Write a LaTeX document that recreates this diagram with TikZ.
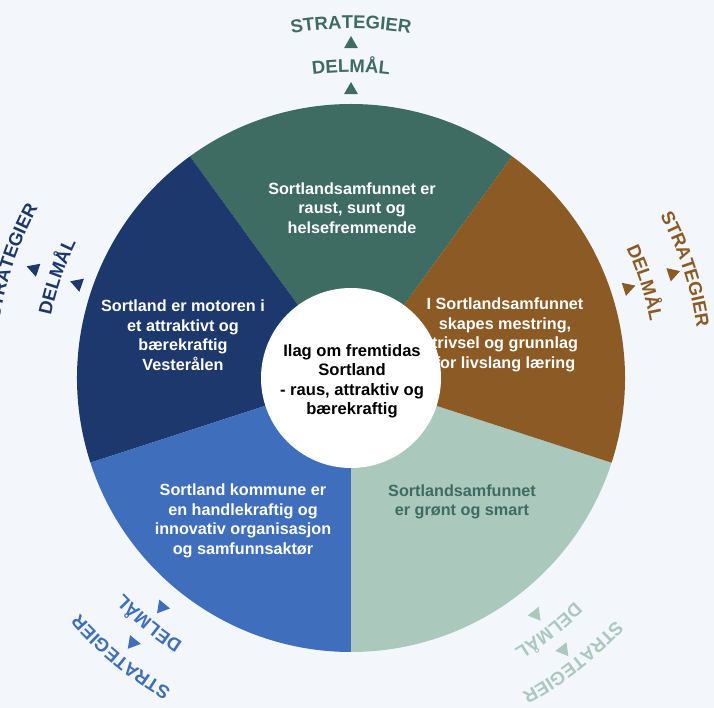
\documentclass[tikz,border=0pt]{standalone}
\usepackage{fontspec}
\setmainfont{Liberation Sans}
\usetikzlibrary{decorations.text}
\definecolor{segTeal}{HTML}{3E6B62}
\definecolor{segBrown}{HTML}{8C5A24}
\definecolor{segSage}{HTML}{AAC8BC}
\definecolor{segBlue}{HTML}{3F6EBC}
\definecolor{segNavy}{HTML}{1D386C}
\definecolor{bgBlue}{HTML}{F3F7FC}
\newcommand{\ringfont}{\bfseries\fontsize{18.5}{20}\selectfont}
\begin{document}
\begin{tikzpicture}[x=1pt,y=1pt]
    \tikzstyle{every node}+=[inner sep=0pt]
    \tikzstyle{segtext}=[align=center, text=white, font=\bfseries\fontsize{16.2}{19.5}\selectfont]
    \tikzstyle{ringtext}=[decorate, decoration={text along path, text align=center}]
    \fill [bgBlue] (-351,378) rectangle (363,-330);
    \useasboundingbox (-351,378) rectangle (363,-330);
    % pie
    \fill [segTeal] (0,0) -- (54:274) arc[start angle=54, end angle=126, radius=274] -- cycle;
    \fill [segNavy] (0,0) -- (126:274) arc[start angle=126, end angle=198, radius=274] -- cycle;
    \fill [segBlue] (0,0) -- (198:274) arc[start angle=198, end angle=270, radius=274] -- cycle;
    \fill [segSage] (0,0) -- (270:274) arc[start angle=270, end angle=342, radius=274] -- cycle;
    \fill [segBrown] (0,0) -- (-18:274) arc[start angle=-18, end angle=54, radius=274] -- cycle;
    \fill [white] (0,0) circle (90);
    \node [segtext] (goaltop) at (1,170) {Sortlandsamfunnet er\\raust, sunt og\\helsefremmende};
    \node [segtext] (goalleft) at (-168,43) {Sortland er motoren i\\et attraktivt og\\bærekraftig\\Vesterålen};
    \node [segtext] (goalright) at (154,43) {I Sortlandsamfunnet\\skapes mestring,\\trivsel og grunnlag\\for livslang læring};
    \node [segtext] (goalbl) at (-108,-143) {Sortland kommune er\\en handlekraftig og\\innovativ organisasjon\\og samfunnsaktør};
    \node [segtext, text=segTeal] (goalbr) at (111,-124) {Sortlandsamfunnet\\er grønt og smart};
    \node [segtext, text=black, font=\bfseries\fontsize{16.6}{19.5}\selectfont] (vision) at (1,-3) {Ilag om fremtidas\\Sortland\\- raus, attraktiv og\\bærekraftig};
    % top
    \fill [segTeal] (90:296) -- (88.59:284) -- (91.41:284) -- cycle;
    \path [ringtext, decoration={text color=segTeal, text={|\ringfont|DELMÅL}}] (105:305.4) arc[start angle=105, end angle=75, radius=305.4];
    \fill [segTeal] (90:342) -- (88.80:330) -- (91.20:330) -- cycle;
    \path [ringtext, decoration={text color=segTeal, text={|\ringfont|STRATEGIER}}] (105:349.4) arc[start angle=105, end angle=75, radius=349.4];
    % right
    \fill [segBrown] (18:299) -- (16.63:287) -- (19.37:287) -- cycle;
    \path [ringtext, decoration={text color=segBrown, text={|\ringfont|DELMÅL}}] (33:304.4) arc[start angle=33, end angle=3, radius=304.4];
    \fill [segBrown] (18:346) -- (16.80:334) -- (19.20:334) -- cycle;
    \path [ringtext, decoration={text color=segBrown, text={|\ringfont|STRATEGIER}}] (33:349.4) arc[start angle=33, end angle=3, radius=349.4];
    % left
    \fill [segNavy] (161:297) -- (159.61:285) -- (162.39:285) -- cycle;
    \path [ringtext, decoration={text color=segNavy, text={|\ringfont|DELMÅL}}] (176:306.4) arc[start angle=176, end angle=146, radius=306.4];
    \fill [segNavy] (161:343) -- (159.81:331) -- (162.19:331) -- cycle;
    \path [ringtext, decoration={text color=segNavy, text={|\ringfont|STRATEGIER}}] (176:356.4) arc[start angle=176, end angle=146, radius=356.4];
    % bottom left
    \fill [segBlue] (-129.5:305) -- (-130.86:293) -- (-128.14:293) -- cycle;
    \path [ringtext, decoration={text color=segBlue, text={|\ringfont|DELMÅL}}] (-114.5:313.4) arc[start angle=-114.5, end angle=-144.5, radius=313.4];
    \fill [segBlue] (-129.5:351) -- (-130.68:339) -- (-128.32:339) -- cycle;
    \path [ringtext, decoration={text color=segBlue, text={|\ringfont|STRATEGIER}}] (-114.5:359.4) arc[start angle=-114.5, end angle=-144.5, radius=359.4];
    % bottom right
    \fill [segSage] (-52:308) -- (-53.36:296) -- (-50.64:296) -- cycle;
    \path [ringtext, decoration={text color=segSage, text={|\ringfont|DELMÅL}}] (-37:316.4) arc[start angle=-37, end angle=-67, radius=316.4];
    \fill [segSage] (-52:353) -- (-53.18:341) -- (-50.82:341) -- cycle;
    \path [ringtext, decoration={text color=segSage, text={|\ringfont|STRATEGIER}}] (-37:358.4) arc[start angle=-37, end angle=-67, radius=358.4];
\end{tikzpicture}
\end{document}
